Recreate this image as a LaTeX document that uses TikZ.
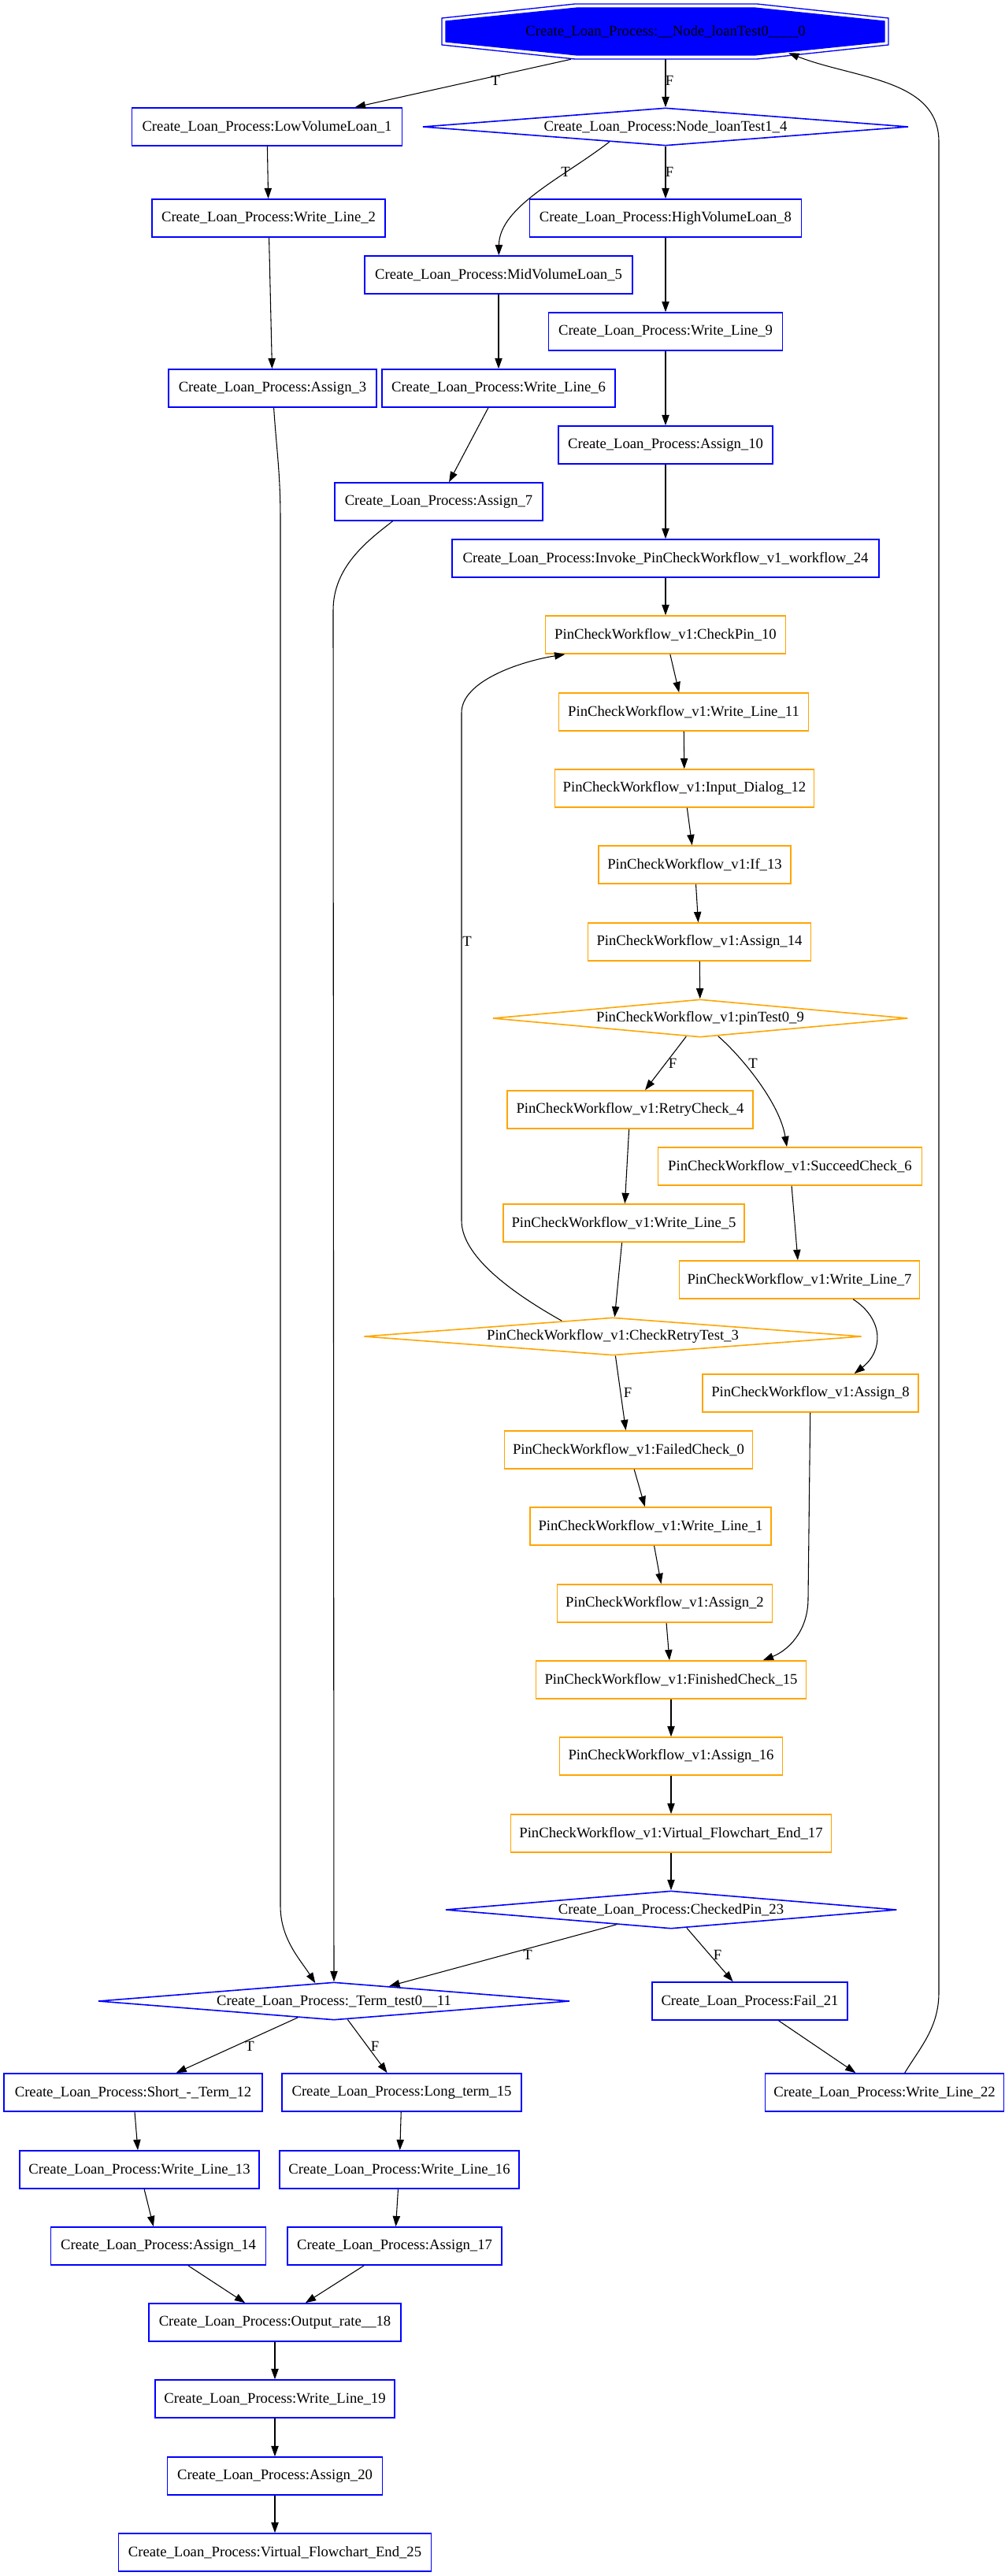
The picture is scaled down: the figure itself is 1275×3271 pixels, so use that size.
\documentclass[tikz,border=0pt]{standalone}
\usepackage{fontspec}
\setmainfont{Liberation Serif}
\usetikzlibrary{shapes.geometric,arrows.meta}
\definecolor{gvblue}{RGB}{0,0,255}
\definecolor{gvorange}{RGB}{255,165,0}
\begin{document}
\begin{tikzpicture}[x=0.75pt,y=-0.75pt,
  lbl/.style={font=\fontsize{14}{16}\selectfont, inner sep=0pt},
  base/.style={font=\fontsize{14}{16}\selectfont, minimum height=36pt, inner sep=1pt, line width=1.2pt},
  bbox/.style={base, rectangle, draw=gvblue},
  obox/.style={base, rectangle, draw=gvorange},
  bdia/.style={base, diamond, aspect=12, inner sep=0pt, draw=gvblue},
  odia/.style={base, diamond, aspect=12, inner sep=0pt, draw=gvorange},
  wd/.style={minimum width=#1*0.75pt},
  edge/.style={draw=black, line width=0.8pt, -{Triangle[length=10pt,width=7pt]}}
]
\fill[white] (0,0) rectangle (1275,3271);
\useasboundingbox (0,0) rectangle (1275,3271);

% start node: double octagon, inner one filled
\draw[gvblue, line width=1pt] (730,5) -- (961,5) -- (1128,23) -- (1128,57) -- (961,75) -- (730,75) -- (561,57) -- (561,23) -- cycle;
\filldraw[fill=gvblue, draw=gvblue, line width=1pt] (733,10) -- (958,10) -- (1123,27) -- (1123,53) -- (958,70) -- (733,70) -- (566,53) -- (566,27) -- cycle;
\node[font=\fontsize{14}{16}\selectfont, inner sep=0pt, minimum width=567*0.75pt, minimum height=70*0.75pt] (top) at (845,40) {Create\_Loan\_Process:\_\_Node\_loanTest0\_\_\_\_0};

% Create_Loan_Process, upper part
\node[bbox, wd=343] (low1) at (339,161) {Create\_Loan\_Process:LowVolumeLoan\_1};
\node[bdia, wd=617] (lt1) at (845,161) {Create\_Loan\_Process:Node\_loanTest1\_4};
\node[bbox, wd=296] (wl2) at (341,277) {Create\_Loan\_Process:Write\_Line\_2};
\node[bbox, wd=345] (hv8) at (845,277) {Create\_Loan\_Process:HighVolumeLoan\_8};
\node[bbox, wd=340] (mv5) at (633,349) {Create\_Loan\_Process:MidVolumeLoan\_5};
\node[bbox, wd=297] (wl9) at (845,421) {Create\_Loan\_Process:Write\_Line\_9};
\node[bbox, wd=264] (as3) at (346,493) {Create\_Loan\_Process:Assign\_3};
\node[bbox, wd=296] (wl6) at (633,493) {Create\_Loan\_Process:Write\_Line\_6};
\node[bbox, wd=272] (as10) at (845,565) {Create\_Loan\_Process:Assign\_10};
\node[bbox, wd=264] (as7) at (557,637) {Create\_Loan\_Process:Assign\_7};
\node[bbox, wd=542] (inv24) at (845,709) {Create\_Loan\_Process:Invoke\_PinCheckWorkflow\_v1\_workflow\_24};

% PinCheckWorkflow_v1 sub-flow
\node[obox, wd=305] (cp10) at (845,806) {PinCheckWorkflow\_v1:CheckPin\_10};
\node[obox, wd=317] (wl11) at (868,904) {PinCheckWorkflow\_v1:Write\_Line\_11};
\node[obox, wd=329] (id12) at (869,1001) {PinCheckWorkflow\_v1:Input\_Dialog\_12};
\node[obox, wd=244] (if13) at (882,1098) {PinCheckWorkflow\_v1:If\_13};
\node[obox, wd=283] (pas14) at (888,1196) {PinCheckWorkflow\_v1:Assign\_14};
\node[odia, wd=527] (pt9) at (889,1293) {PinCheckWorkflow\_v1:pinTest0\_9};
\node[obox, wd=312] (rc4) at (800,1409) {PinCheckWorkflow\_v1:RetryCheck\_4};
\node[obox, wd=335] (sc6) at (1003,1481) {PinCheckWorkflow\_v1:SucceedCheck\_6};
\node[obox, wd=306] (wl5) at (792,1553) {PinCheckWorkflow\_v1:Write\_Line\_5};
\node[obox, wd=305] (wl7) at (1015,1625) {PinCheckWorkflow\_v1:Write\_Line\_7};
\node[odia, wd=632] (crt3) at (778,1697) {PinCheckWorkflow\_v1:CheckRetryTest\_3};
\node[obox, wd=274] (as8) at (1029,1769) {PinCheckWorkflow\_v1:Assign\_8};
\node[obox, wd=315] (fc0) at (798,1841) {PinCheckWorkflow\_v1:FailedCheck\_0};
\node[obox, wd=306] (wl1) at (826,1938) {PinCheckWorkflow\_v1:Write\_Line\_1};
\node[obox, wd=273] (as2) at (844,2036) {PinCheckWorkflow\_v1:Assign\_2};
\node[obox, wd=343] (fc15) at (852,2133) {PinCheckWorkflow\_v1:FinishedCheck\_15};
\node[obox, wd=283] (as16) at (852,2230) {PinCheckWorkflow\_v1:Assign\_16};
\node[obox, wd=407] (vfe17) at (852,2328) {PinCheckWorkflow\_v1:Virtual\_Flowchart\_End\_17};

% Create_Loan_Process, lower part
\node[bdia, wd=573] (cp23) at (852,2425) {Create\_Loan\_Process:CheckedPin\_23};
\node[bdia, wd=599] (tt11) at (424,2541) {Create\_Loan\_Process:\_Term\_test0\_\_11};
\node[bbox, wd=248] (f21) at (952,2541) {Create\_Loan\_Process:Fail\_21};
\node[bbox, wd=328] (st12) at (169,2657) {Create\_Loan\_Process:Short\_-\_Term\_12};
\node[bbox, wd=304] (lg15) at (510,2657) {Create\_Loan\_Process:Long\_term\_15};
\node[bbox, wd=303] (wl22) at (1123,2657) {Create\_Loan\_Process:Write\_Line\_22};
\node[bbox, wd=304] (wl13) at (177,2755) {Create\_Loan\_Process:Write\_Line\_13};
\node[bbox, wd=304] (wl16) at (507,2755) {Create\_Loan\_Process:Write\_Line\_16};
\node[bbox, wd=273] (as14) at (201,2852) {Create\_Loan\_Process:Assign\_14};
\node[bbox, wd=272] (as17) at (501,2852) {Create\_Loan\_Process:Assign\_17};
\node[bbox, wd=320] (or18) at (349,2949) {Create\_Loan\_Process:Output\_rate\_\_18};
\node[bbox, wd=304] (wl19) at (349,3046) {Create\_Loan\_Process:Write\_Line\_19};
\node[bbox, wd=273] (as20) at (349,3144) {Create\_Loan\_Process:Assign\_20};
\node[bbox, wd=397] (vfe25) at (349,3241) {Create\_Loan\_Process:Virtual\_Flowchart\_End\_25};

% connectors, upper part
\draw[edge] ([shift={(-120,0)}]top.south) -- (low1);
\draw[edge] (top) -- (lt1);
\draw[edge] (lt1.-165) .. controls (716,225) and (634,262) .. (mv5);
\draw[edge] (lt1) -- (hv8);
\draw[edge] (low1) -- (wl2);
\draw[edge] (wl2) -- (as3);
\draw[edge] (hv8) -- (wl9);
\draw[edge] (mv5) -- (wl6);
\draw[edge] (wl9) -- (as10);
\draw[edge] (wl6) -- (as7);
\draw[edge] (as10) -- (inv24);
\draw[edge] (inv24) -- (cp10);
\draw[edge] (as3) .. controls (351,570) and (356,600) .. (356,660) -- (356,2420) .. controls (356,2462) and (381,2488) .. (tt11.136);
\draw[edge] (as7.-157) .. controls (466,687) and (423,720) .. (423,775) -- (tt11);

% connectors, sub-flow
\draw[edge] (cp10) -- (wl11);
\draw[edge] (wl11) -- (id12);
\draw[edge] (id12) -- (if13);
\draw[edge] (if13) -- (pas14);
\draw[edge] (pas14) -- (pt9);
\draw[edge] (pt9) -- (rc4);
\draw[edge] (pt9.-45) .. controls (940,1340) and (990,1400) .. (sc6);
\draw[edge] (rc4) -- (wl5);
\draw[edge] (sc6) -- (wl7);
\draw[edge] (wl5) -- (crt3);
\draw[edge] (wl7.-20) .. controls (1122,1675) and (1122,1715) .. (as8.24);
\draw[edge] (crt3) -- (fc0);
\draw[edge] (crt3.163) .. controls (665,1650) and (586,1600) .. (586,1550) -- (586,905) .. controls (586,865) and (660,840) .. (cp10.-169);
\draw[edge] (fc0) -- (wl1);
\draw[edge] (wl1) -- (as2);
\draw[edge] (as2) -- (fc15);
\draw[edge] (as8) -- (1026,2030) .. controls (1026,2072) and (1000,2096) .. (fc15.12);
\draw[edge] (fc15) -- (as16);
\draw[edge] (as16) -- (vfe17);
\draw[edge] (vfe17) -- (cp23);

% connectors, lower part
\draw[edge] (cp23) -- (tt11);
\draw[edge] (cp23) -- (f21);
\draw[edge] (tt11) -- (st12);
\draw[edge] (tt11) -- (lg15);
\draw[edge] (f21) -- (wl22);
\draw[edge] (wl22.44) .. controls (1168,2600) and (1192,2575) .. (1192,2530) -- (1192,180) .. controls (1192,100) and (1085,100) .. ([shift={(156,-8)}]top.south);
\draw[edge] (st12) -- (wl13);
\draw[edge] (lg15) -- (wl16);
\draw[edge] (wl13) -- (as14);
\draw[edge] (wl16) -- (as17);
\draw[edge] (as14) -- (or18);
\draw[edge] (as17) -- (or18);
\draw[edge] (or18) -- (wl19);
\draw[edge] (wl19) -- (as20);
\draw[edge] (as20) -- (vfe25);

% branch labels
\node[lbl] (lab1) at (629,102) {T};
\node[lbl] (lab2) at (850,102) {F};
\node[lbl] (lab3) at (718,218) {T};
\node[lbl] (lab4) at (850,218) {F};
\node[lbl] (lab5) at (854,1350) {F};
\node[lbl] (lab6) at (956,1350) {T};
\node[lbl] (lab7) at (593,1195) {T};
\node[lbl] (lab8) at (797,1768) {F};
\node[lbl] (lab9) at (670,2482) {T};
\node[lbl] (lab10) at (911,2482) {F};
\node[lbl] (lab11) at (317,2598) {T};
\node[lbl] (lab12) at (476,2598) {F};
\end{tikzpicture}
\end{document}
